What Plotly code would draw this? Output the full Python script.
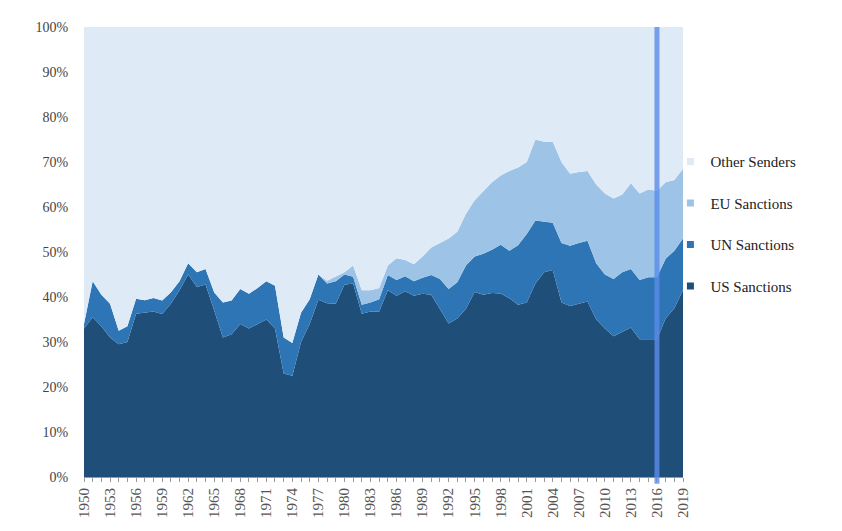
import plotly.graph_objects as go

years = list(range(1950, 2020))

# share of sanctions by sender, percent
us_sanctions = [33, 35.5, 33.5, 31, 29.5, 30, 36.3, 36.5, 36.8, 36.2,
                38.5, 41.5, 45, 42.2, 42.8, 37, 31, 31.7, 34, 33,
                34, 35, 33, 23, 22.5, 30, 34, 39.4, 38.6, 38.5,
                42.7, 43, 36.3, 36.8, 36.8, 41.5, 40.3, 41.3, 40.3, 40.7,
                40.5, 37.4, 34.1, 35.2, 37.4, 41.1, 40.5, 40.9, 40.8, 39.7,
                38.3, 38.8, 43, 45.5, 46, 38.8, 38, 38.5, 39, 35,
                33, 31.3, 32.3, 33.2, 30.6, 30.6, 30.6, 35.2, 37.5, 41.5]
un_sanctions = [1, 8, 7, 7.5, 3, 3.5, 3.3, 2.8, 3, 3,
                2.5, 2, 2.5, 3.3, 3.4, 4, 7.8, 7.5, 7.8, 7.7,
                8, 8.5, 9.5, 8, 7.3, 6.5, 5.5, 5.6, 4.4, 5,
                2.3, 1.5, 2, 2, 2.7, 3.4, 3.5, 3.3, 3.2, 3.6,
                4.4, 6.6, 7.7, 8.1, 9.6, 7.9, 9.1, 9.6, 10.8, 10.6,
                13.2, 15.2, 14, 11.2, 10.5, 13.2, 13.4, 13.5, 13.5, 12.5,
                12, 12.7, 13.2, 13, 13.2, 13.8, 13.8, 13.3, 12.8, 11.5]
eu_sanctions = [0, 0, 0, 0, 0, 0, 0, 0, 0, 0,
                0, 0, 0, 0, 0, 0, 0, 0, 0, 0,
                0, 0, 0, 0, 0, 0, 0, 0, 0.6, 1,
                0.5, 2.5, 3.2, 2.7, 2.5, 2.1, 4.8, 3.6, 3.8, 4.7,
                6.1, 8, 11.2, 11.2, 11.5, 12.5, 13.9, 15, 15.4, 17.7,
                17.3, 16, 18, 17.8, 18, 18, 16, 15.8, 15.5, 17.5,
                18, 17.9, 17.3, 19.1, 19.2, 19.5, 19.2, 17, 15.7, 15.5]
other_senders = [66, 56.5, 59.5, 61.5, 67.5, 66.5, 60.4, 60.7, 60.2, 60.8,
                 59, 56.5, 52.5, 54.5, 53.8, 59, 61.2, 60.8, 58.2, 59.3,
                 58, 56.5, 57.5, 69, 70.2, 63.5, 60.5, 55, 56.4, 55.5,
                 54.5, 53, 58.5, 58.5, 58, 53, 51.4, 51.8, 52.7, 51,
                 49, 48, 47, 45.5, 41.5, 38.5, 36.5, 34.5, 33, 32,
                 31.2, 30, 25, 25.5, 25.5, 30, 32.6, 32.2, 32, 35,
                 37, 38.1, 37.2, 34.7, 37, 36.1, 36.4, 34.5, 34, 31.5]

series = [
    ("US Sanctions", us_sanctions, "#1f4e79"),
    ("UN Sanctions", un_sanctions, "#2e75b6"),
    ("EU Sanctions", eu_sanctions, "#9dc3e6"),
    ("Other Senders", other_senders, "#deebf7"),
]

fig = go.Figure()
for i, (name, vals, color) in enumerate(series):
    fig.add_trace(go.Scatter(
        x=years, y=vals, name=name, showlegend=False,
        mode="lines", stackgroup="one",
        line=dict(width=0, color=color),
        fillcolor=color,
    ))
    # small square legend key, like the original
    fig.add_trace(go.Scatter(
        x=[None], y=[None], name=name, legendgroup=name,
        legendrank=10 - i, mode="markers",
        marker=dict(symbol="square", size=7, color=color),
    ))

# highlight 2016
fig.add_shape(type="line", xref="x", yref="paper",
              x0=2016, x1=2016, y0=-0.015, y1=1,
              line=dict(color="rgba(90,140,232,0.8)", width=5))

serif = "Liberation Serif, Times New Roman, serif"
fig.update_layout(
    width=842, height=531,
    margin=dict(l=76, r=167, t=12, b=62),
    plot_bgcolor="white", paper_bgcolor="white",
    showlegend=True,
    legend=dict(x=0.979, xanchor="left", y=0.737, yanchor="top",
                traceorder="grouped", tracegroupgap=19,
                itemwidth=30, bgcolor="rgba(0,0,0,0)",
                font=dict(family=serif, size=15, color="#222")),
    xaxis=dict(range=[1950, 2019], tick0=1950, dtick=3,
               tickangle=-90, ticks="outside", ticklen=4,
               tickcolor="#999", showgrid=False, zeroline=False,
               showline=True, linecolor="#999",
               tickfont=dict(family=serif, size=15, color="#555"),
               minor=dict(dtick=1, ticks="outside", ticklen=4, tickcolor="#999")),
    yaxis=dict(range=[0, 100], dtick=10, ticksuffix="%",
               showgrid=False, zeroline=False, showline=False,
               ticks="outside", ticklen=12, tickcolor="rgba(0,0,0,0)",
               tickfont=dict(family=serif, size=14, color="#444")),
)

fig.write_html("out.html")
